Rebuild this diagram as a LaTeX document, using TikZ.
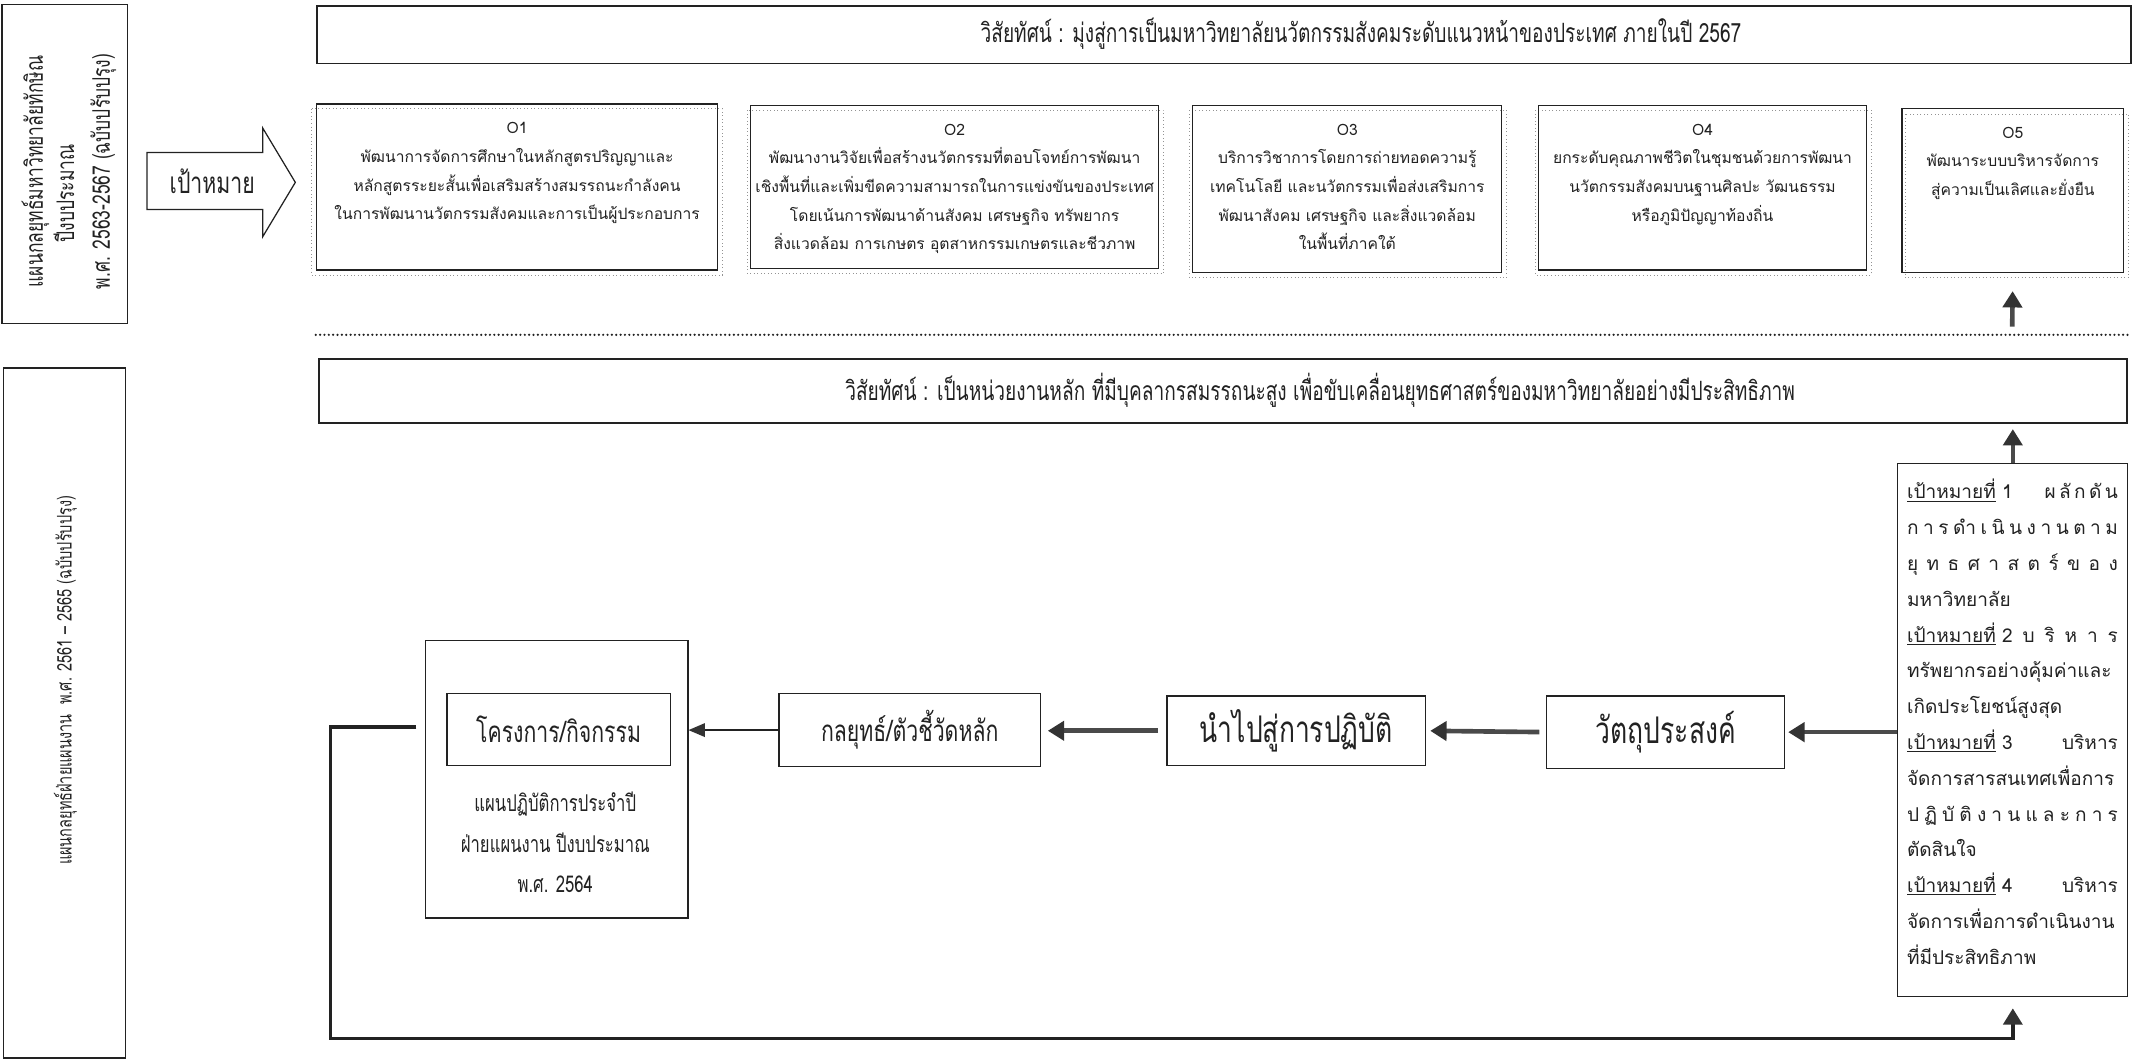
\documentclass[tikz,border=0pt]{standalone}
\usepackage{fontspec}
\usetikzlibrary{arrows.meta,calc}
\newfontfamily\thf[Script=Thai]{Loma}
\newfontfamily\thc[Script=Thai,FakeStretch=0.72]{Loma}
\definecolor{ln}{HTML}{222222}
\definecolor{shaft}{HTML}{4A4A4A}
\definecolor{headc}{HTML}{333333}
\newcommand\jl[1]{\leavevmode\hbox to 155pt{#1}}
\newcommand\ls{\hspace{2.5pt}}
\tikzset{
 box/.style={draw=ln,line width=0.9pt,inner sep=0pt,anchor=north west,text=ln},
 banner/.style={draw=ln,line width=1.3pt,inner sep=0pt,anchor=north west},
 dotf/.style={draw=gray!85,line width=0.6pt,dotted},
 otext/.style={font=\thf\fontsize{11.5}{21}\selectfont,align=center,inner sep=0pt,text=ln,anchor=north},
 bantext/.style={font=\thc\fontsize{19.5}{22}\selectfont,text=ln,inner sep=0pt},
 rowtext/.style={font=\thc\fontsize{21.7}{24}\selectfont},
 rowtextb/.style={font=\thc\fontsize{27}{30}\selectfont},
 sidetext/.style={font=\thc\fontsize{17.8}{20}\selectfont,text=ln,rotate=90,inner sep=0pt},
 bigarrow/.style={draw=shaft,line width=3.4pt,-{Triangle[width=14pt,length=12pt,color=headc]}},
 thinarrow/.style={draw=ln,line width=0.9pt,-{Triangle[width=10pt,length=12pt,color=headc]}},
 fbarrow/.style={draw=ln,line width=2.6pt,-{Triangle[width=14pt,length=12pt,color=headc]}},
 sepline/.style={draw=ln,line width=1.8pt,dash pattern=on 0pt off 3.2pt,line cap=round},
}
\begin{document}
\begin{tikzpicture}[x=1pt,y=-1pt]
\useasboundingbox (0,0) rectangle (1568,779);
\fill[white] (0,0) rectangle (1568,779);

% left side boxes
\node[box,minimum width=92pt,minimum height=234pt] (lb1) at (1,3) {};
\node[sidetext] (lt1) at (26,126) {แผนกลยุทธ์มหาวิทยาลัยทักษิณ};
\node[sidetext] (lt2) at (47,142) {ปีงบประมาณ};
\node[sidetext] (lt3) at (76,126) {พ.ศ. 2563-2567 (ฉบับปรับปรุง)};
\node[box,minimum width=90pt,minimum height=507pt] (lb2) at (2,270) {};
\node[sidetext,font=\thc\fontsize{14.8}{17}\selectfont] (lt4) at (48,500) {แผนกลยุทธ์ฝ่ายแผนงาน\ \ พ.ศ. 2561 – 2565 (ฉบับปรับปรุง)};

% big arrow shape
\draw[ln,line width=0.9pt,fill=white] (108,112) -- (193,112) -- (193,94) -- (217,134) -- (193,174) -- (193,154) -- (108,154) -- cycle;
\node[font=\thc\fontsize{21.7}{24}\selectfont,text=ln,inner sep=0pt] (goal) at (156,133) {เป้าหมาย};

% top banner
\node[banner,minimum width=1333pt,minimum height=42pt] (ban1) at (232,4) {};
\node[bantext] (ban1t) at (1000,25) {วิสัยทัศน์ : มุ่งสู่การเป็นมหาวิทยาลัยนวัตกรรมสังคมระดับแนวหน้าของประเทศ ภายในปี 2567};

% O boxes
\draw[dotf] (229,80) rectangle (531,202);
\node[box,minimum width=295pt,minimum height=122pt] (o1) at (232,76) {};
\node[otext,text width=290pt] (o1t) at ([yshift=-14pt]o1.north) {O1\\พัฒนาการจัดการศึกษาในหลักสูตรปริญญาและ\\หลักสูตรระยะสั้นเพื่อเสริมสร้างสมรรถนะกำลังคน\\ในการพัฒนานวัตกรรมสังคมและการเป็นผู้ประกอบการ};

\draw[dotf] (549,81) rectangle (855,201);
\node[box,minimum width=300pt,minimum height=120pt] (o2) at (551,77) {};
\node[otext,text width=296pt] (o2t) at ([yshift=-14pt]o2.north) {O2\\พัฒนางานวิจัยเพื่อสร้างนวัตกรรมที่ตอบโจทย์การพัฒนา\\เชิงพื้นที่และเพิ่มขีดความสามารถในการแข่งขันของประเทศ\\โดยเน้นการพัฒนาด้านสังคม เศรษฐกิจ ทรัพยากร\\สิ่งแวดล้อม การเกษตร อุตสาหกรรมเกษตรและชีวภาพ};

\draw[dotf] (874,81) rectangle (1107,204);
\node[box,minimum width=227pt,minimum height=123pt] (o3) at (876,77) {};
\node[otext,text width=224pt] (o3t) at ([yshift=-14pt]o3.north) {O3\\บริการวิชาการโดยการถ่ายทอดความรู้\\เทคโนโลยี และนวัตกรรมเพื่อส่งเสริมการ\\พัฒนาสังคม เศรษฐกิจ และสิ่งแวดล้อม\\ในพื้นที่ภาคใต้};

\draw[dotf] (1128,81) rectangle (1375,202);
\node[box,minimum width=241pt,minimum height=121pt] (o4) at (1130,77) {};
\node[otext,text width=238pt] (o4t) at ([yshift=-14pt]o4.north) {O4\\ยกระดับคุณภาพชีวิตในชุมชนด้วยการพัฒนา\\นวัตกรรมสังคมบนฐานศิลปะ วัฒนธรรม\\หรือภูมิปัญญาท้องถิ่น};

\draw[dotf] (1400,84) rectangle (1564,204);
\node[box,minimum width=163pt,minimum height=121pt] (o5) at (1397,79) {};
\node[otext,text width=160pt] (o5t) at ([yshift=-14pt]o5.north) {O5\\พัฒนาระบบบริหารจัดการ\\สู่ความเป็นเลิศและยั่งยืน};

% separator
\coordinate (s1) at (232,246);
\coordinate (s2) at (1565,246);
\draw[sepline] (s1) -- (s2);
\coordinate (a5) at (1478.5,240);
\draw[bigarrow,shorten >=13pt] (a5) -- (o5.south);

% second banner
\node[banner,minimum width=1328pt,minimum height=47pt] (ban2) at (234,263) {};
\node[bantext] (ban2t) at (970,287) {วิสัยทัศน์ : เป็นหน่วยงานหลัก ที่มีบุคลากรสมรรถนะสูง เพื่อขับเคลื่อนยุทธศาสตร์ของมหาวิทยาลัยอย่างมีประสิทธิภาพ};

% right column
\node[box,minimum width=169pt,minimum height=392pt] (rb) at (1394,340) {};
\node[anchor=north west,inner sep=0pt,text width=155pt,align=left,text=ln,font=\thf\fontsize{14}{26.3}\selectfont] (rbt) at (1401,352) {%
\jl{\underline{เป้าหมายที่} 1\hfill ผ\ls ลั\ls ก\ls ดั\ls น}\\
\jl{ก\hfill า\hfill ร\hfill ดำ\hfill เ\hfill นิ\hfill น\hfill ง\hfill า\hfill น\hfill ต\hfill า\hfill ม}\\
\jl{ยุ\hfill ท\hfill ธ\hfill ศ\hfill า\hfill ส\hfill ต\hfill ร์\hfill ข\hfill อ\hfill ง}\\
มหาวิทยาลัย\\
\jl{\underline{เป้าหมายที่} 2\hfill บ\hfill ริ\hfill ห\hfill า\hfill ร}\\
\jl{ทรัพยากรอย่างคุ้มค่าและ\hfill}\\
เกิดประโยชน์สูงสุด\\
\jl{\underline{เป้าหมายที่} 3\hfill บริหาร}\\
\jl{จัดการสารสนเทศเพื่อการ\hfill}\\
\jl{ป\hfill ฏิ\hfill บั\hfill ติ\hfill ง\hfill า\hfill น\hfill แ\hfill ล\hfill ะ\hfill ก\hfill า\hfill ร}\\
ตัดสินใจ\\
\jl{\underline{เป้าหมายที่} 4\hfill บริหาร}\\
\jl{จัดการเพื่อการดำเนินงาน\hfill}\\
ที่มีประสิทธิภาพ};
\draw[bigarrow,shorten >=4pt] (rb.north) -- (rb.north |- ban2.south);

% row
\node[box,minimum width=193pt,minimum height=204pt] (cont) at (312,470) {};
\node[box,minimum width=164pt,minimum height=53pt,rowtext] (kp) at (328,509) {โครงการ/กิจกรรม};
\node[font=\thc\fontsize{17}{29.5}\selectfont,align=center,text=ln,inner sep=0pt,anchor=north] (contt) at (408,582) {แผนปฏิบัติการประจำปี\\ฝ่ายแผนงาน ปีงบประมาณ\\พ.ศ. 2564};
\node[box,minimum width=192pt,minimum height=54pt,rowtext] (b2) at (572,509) {กลยุทธ์/ตัวชี้วัดหลัก};
\node[box,minimum width=190pt,minimum height=51pt,rowtextb] (b3) at (857,511) {นำไปสู่การปฏิบัติ};
\node[box,minimum width=175pt,minimum height=53pt,rowtextb] (b4) at (1136,511) {วัตถุประสงค์};

\draw[bigarrow,shorten >=2pt] (rb.west |- b4.east) -- (b4.east);
\draw[bigarrow,shorten <=5pt,shorten >=3pt] (b4.west) -- (b3.east);
\draw[bigarrow,shorten <=6pt,shorten >=5pt] (b3.west) -- (b3.west -| b2.east);
\draw[thinarrow] (b2.west) -- (b2.west -| cont.east);

% feedback loop
\coordinate (fbL) at (243,534);
\coordinate (fbB) at (243,763);
\draw[fbarrow,shorten >=8pt] ([xshift=-6pt]cont.west |- fbL) -- (fbL) -- (fbB) -- (fbB -| rb.south) -- (rb.south);
\end{tikzpicture}
\end{document}
